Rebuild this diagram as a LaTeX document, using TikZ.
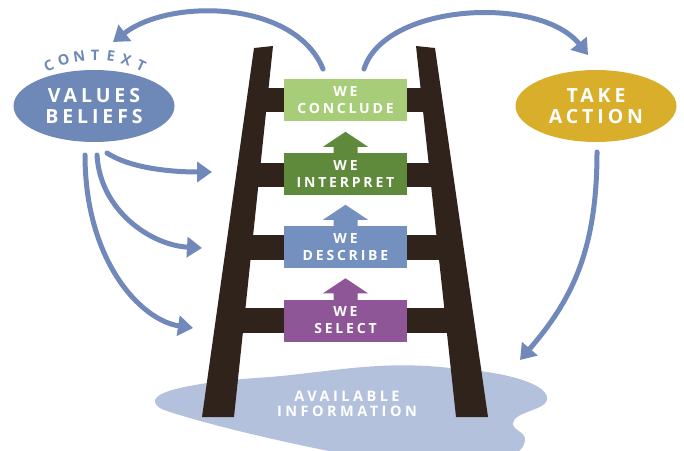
\documentclass[tikz,border=0pt]{standalone}
\usepackage{fontspec}
\newfontfamily\lbl{Open Sans}[LetterSpace=20]
\newfontfamily\lblw{Open Sans}[LetterSpace=24]
\usetikzlibrary{arrows.meta,calc,shapes.geometric}
\definecolor{arrowblue}{HTML}{7089BA}
\definecolor{valblue}{HTML}{6E88B8}
\definecolor{gold}{HTML}{D9AE2B}
\definecolor{ladder}{HTML}{2F231B}
\definecolor{lgreen}{HTML}{A8CD79}
\definecolor{dgreen}{HTML}{5F8A3C}
\definecolor{dblue}{HTML}{7490BF}
\definecolor{purp}{HTML}{8E5597}
\definecolor{puddle}{HTML}{B4C1DD}
\tikzset{
  flow/.style={draw=arrowblue, line width=5pt, line cap=round, -{Triangle[width=20pt,length=15pt]}},
  stepbox/.style={minimum width=123pt, minimum height=42pt, inner sep=0pt, text=white,
    font=\lbl\bfseries\fontsize{14}{17}\selectfont, align=center},
  oval/.style={ellipse, minimum width=161pt, minimum height=72pt, inner sep=0pt, text=white,
    font=\lbl\bfseries\fontsize{19.5}{21}\selectfont, align=center},
  rail/.style={fill=ladder},
}
\begin{document}
\begin{tikzpicture}[x=1pt,y=-1pt]
\useasboundingbox (0,0) rectangle (684,450);
% puddle
\fill[puddle] (155,402) .. controls (152,388) and (220,380) .. (270,377)
  .. controls (330,372) and (380,360) .. (450,368)
  .. controls (510,372) and (550,385) .. (547,400)
  .. controls (545,410) and (514,412) .. (513,423)
  .. controls (512,430) and (526,432) .. (525,440)
  .. controls (524,450) and (515,455) .. (505,458)
  -- (365,458)
  .. controls (300,446) and (220,428) .. (170,412)
  .. controls (160,409) and (156,406) .. cycle;
\node[text=white, font=\lblw\bfseries\fontsize{14.5}{15}\selectfont, align=center] (info) at (347,404) {AVAILABLE\\INFORMATION};
% rungs
\fill[ladder] (255,88) rectangle (430,112);
\fill[ladder] (245,163) rectangle (440,187);
\fill[ladder] (237,235) rectangle (448,260);
\fill[ladder] (228,308) rectangle (458,333);
% rails
\fill[rail] (254,48) -- (273,46) -- (234,417) -- (202,417) -- cycle;
\fill[rail] (416,46) -- (435,48) -- (488,417) -- (456,417) -- cycle;
% boxes
\node[stepbox, fill=lgreen] (conclude) at (345.5,100) {WE\\CONCLUDE};
\node[stepbox, fill=dgreen] (interpret) at (345.5,174) {WE\\INTERPRET};
\node[stepbox, fill=dblue] (describe) at (345.5,247) {WE\\DESCRIBE};
\node[stepbox, fill=purp] (select) at (345.5,320.5) {WE\\SELECT};
% up arrows
\foreach \b/\c in {interpret/dgreen, describe/dblue, select/purp}{
  \fill[\c] ($(\b.north)+(-12,0.5)$) -- ++(0,-6.5) -- ++(-10.5,0) -- ++(22.5,-15) -- ++(22.5,15) -- ++(-10.5,0) -- ++(0,6.5) -- cycle;
}
% ovals
\node[oval, fill=valblue] (values) at (94,106) {VALUES\\BELIEFS};
\node[oval, fill=gold] (action) at (596,106) {TAKE\\ACTION};
% context
\coordinate (ctx) at (95,162);
\foreach \ch [count=\i] in {C,O,N,T,E,X,T}{
  \pgfmathsetmacro{\ang}{34-\i*8.5}
  \node[text=valblue, font=\lbl\bfseries\fontsize{14.5}{14}\selectfont, rotate=\ang, inner sep=0pt]
    (ctx\i) at ($(ctx)+({-107*sin(\ang)},{-107*cos(\ang)})$) {\ch};
}
% connectors
\coordinate (cl) at (323,69);
\coordinate (cr) at (364,69);
\coordinate (ctxend) at (113,42);
\coordinate (actend) at (588,55);
\coordinate (actstart) at (597,152);
\coordinate (pudend) at (520,360);
\coordinate (v1) at (107,153);
\coordinate (v2) at (97,155);
\coordinate (v3) at (85,155);
\coordinate (t1) at (212,172);
\coordinate (t2) at (202,248);
\coordinate (t3) at (193,328);
\draw[flow] (cl) .. controls (295,0) and (170,-2) .. (ctxend);
\draw[flow] (cr) .. controls (385,3) and (540,-5) .. (actend);
\draw[flow] (actstart) .. controls (597,250) and (572,300) .. (pudend);
\draw[flow] (v1) .. controls (130,168) and (170,172) .. (t1);
\draw[flow] (v2) .. controls (100,210) and (150,245) .. (t2);
\draw[flow] (v3) .. controls (85,260) and (140,320) .. (t3);
\end{tikzpicture}
\end{document}
